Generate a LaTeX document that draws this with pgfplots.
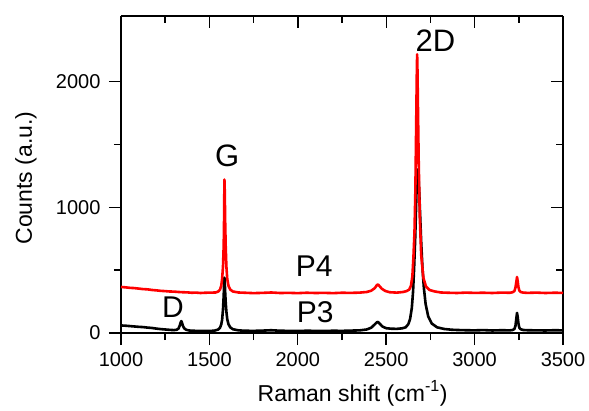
\documentclass[border=0pt]{standalone}
\usepackage{fontspec}
\setmainfont{Liberation Sans}
\usepackage{pgfplots}
\pgfplotsset{compat=1.18}

% red spectrum (P4)
\pgfplotstableread{
x y
1000 366
1025 363
1050 359
1075 357
1100 353
1125 349
1150 347
1175 342
1200 339
1225 335
1250 333
1275 330
1300 329
1325 326
1350 324
1375 323
1400 320
1425 321
1450 318
1475 320
1505 321
1535 322
1550 330
1560 345
1567 375
1572 430
1577 530
1581 700
1583 900
1585 1220
1587 1120
1589 900
1592 700
1596 530
1601 430
1608 375
1618 345
1633 330
1665 322
1700 320
1750 317
1800 319
1850 322
1875 320
1900 318
1950 319
2000 317
2050 320
2100 318
2150 319
2200 317
2250 320
2300 319
2350 321
2390 326
2415 336
2435 356
2447 380
2453 386
2460 376
2475 352
2495 334
2520 324
2560 321
2595 326
2615 333
2630 345
2640 375
2648 450
2654 600
2660 800
2665 1130
2670 1700
2673 2050
2675 2215
2677 2080
2680 1750
2684 1350
2690 920
2698 620
2710 440
2725 370
2745 342
2775 330
2810 322
2850 320
2900 318
2950 321
3000 319
3050 320
3100 318
3150 321
3200 320
3215 324
3225 333
3231 360
3236 405
3240 445
3244 410
3248 365
3253 338
3260 326
3275 321
3300 319
3350 321
3400 318
3450 320
3500 319
}\redtable

% black spectrum (P3)
\pgfplotstableread{
x y
1000 60
1025 58
1050 55
1075 52
1100 49
1125 47
1150 43
1175 40
1200 35
1225 31
1250 28
1275 25
1300 23
1315 26
1325 35
1332 58
1337 82
1341 95
1345 82
1350 58
1357 38
1368 26
1385 20
1410 18
1440 16
1470 17
1500 16
1530 19
1550 28
1560 42
1567 68
1572 105
1577 190
1581 300
1583 380
1585 440
1587 405
1589 330
1592 250
1596 170
1601 110
1608 70
1618 45
1633 30
1665 21
1700 18
1750 17
1800 19
1850 22
1875 20
1900 18
1950 17
2000 16
2050 18
2100 17
2150 16
2200 18
2250 17
2300 19
2350 21
2390 28
2415 42
2435 68
2447 85
2453 88
2462 76
2478 52
2500 38
2530 34
2560 33
2590 37
2610 45
2625 70
2635 110
2645 200
2652 330
2658 520
2664 750
2669 1000
2673 1200
2678 1300
2683 1230
2688 1080
2693 900
2698 720
2705 520
2713 360
2723 230
2738 130
2758 75
2788 45
2828 32
2870 26
2900 24
2950 22
3000 21
3050 23
3100 20
3150 22
3200 21
3215 24
3225 32
3231 55
3236 115
3240 160
3244 125
3248 75
3253 42
3260 30
3275 24
3300 22
3350 21
3400 20
3450 22
3500 21
}\blacktable

\pgfplotsset{
  frame/.style={
    scale only axis,
    width=442pt, height=317pt,
    xmin=1000, xmax=3500,
    ymin=0, ymax=2520,
    xtick={1000,1500,...,3500},
    ytick={0,1000,2000},
    minor x tick num=1,
    minor y tick num=1,
    major tick length=12pt,
    minor tick length=7pt,
    axis line style={line width=1.4pt},
    every tick/.append style={line width=1.4pt, black},
  },
}

\begin{document}
\begin{tikzpicture}
% top and right: ticks pointing in, no labels
\begin{axis}[
  frame,
  axis x line*=top, axis y line*=right,
  tick align=inside,
  xticklabels={}, yticklabels={},
]
\end{axis}
% bottom and left: ticks pointing out, labels and data
\begin{axis}[
  frame,
  axis x line*=bottom, axis y line*=left,
  tick align=outside,
  /pgf/number format/assume math mode=true,
  /pgf/number format/set thousands separator={},
  tick label style={font=\fontsize{20}{24}\selectfont},
  xticklabel style={yshift=-4pt},
  yticklabel style={xshift=-5pt},
  xlabel={Raman shift (cm\textsuperscript{-1})},
  ylabel={Counts (a.u.)},
  label style={font=\fontsize{23}{27}\selectfont},
  xlabel style={at={(axis description cs:0.524,0)}, anchor=base, yshift=-68pt},
  ylabel style={at={(axis description cs:0,0.489)}, anchor=center, yshift=95pt},
]
\addplot[black, line width=2.6pt, line join=round] table {\blacktable};
\addplot[red, line width=2.6pt, line join=round] table {\redtable};
\node[font=\fontsize{31}{31}\selectfont] at (axis cs:1600,1410) {G};
\node[font=\fontsize{31}{31}\selectfont] at (axis cs:2778,2322) {2D};
\node[font=\fontsize{30}{30}\selectfont] at (axis cs:2093,529) {P4};
\node[font=\fontsize{30}{30}\selectfont] at (axis cs:2099,167) {P3};
\node[font=\fontsize{30}{30}\selectfont] at (axis cs:1294,207) {D};
\end{axis}
\pgfresetboundingbox
\path[use as bounding box] ([shift={(-121pt,-77pt)}]current axis.south west) rectangle ([shift={(26pt,16pt)}]current axis.north east);
\end{tikzpicture}
\end{document}
